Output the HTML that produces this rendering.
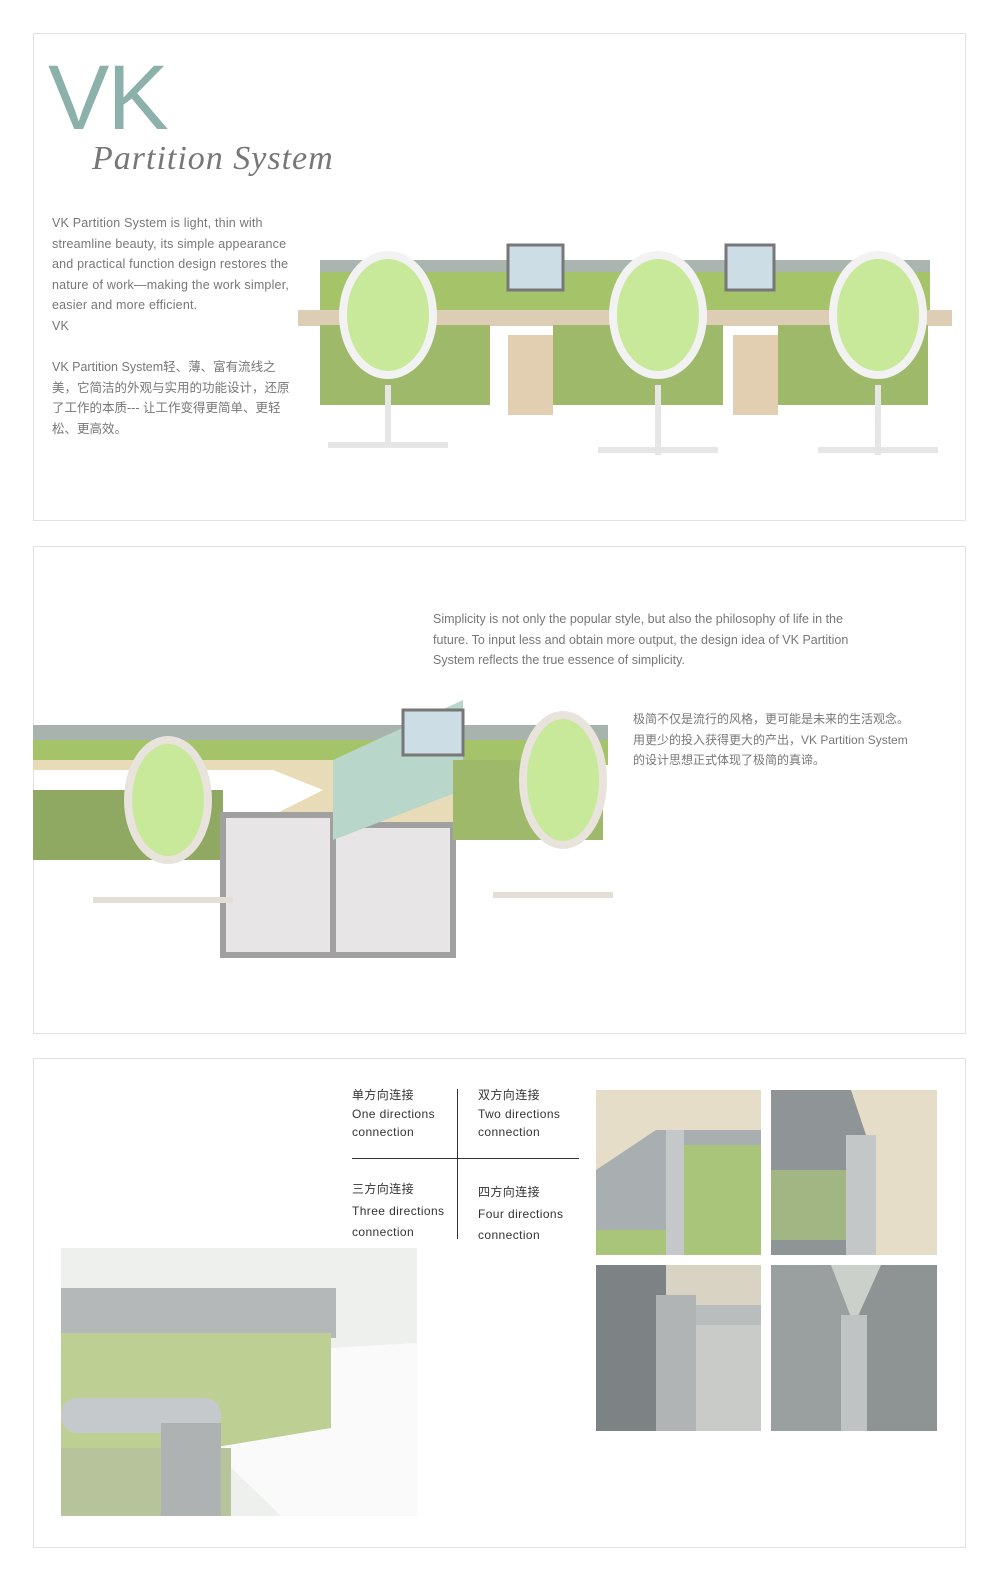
<!DOCTYPE html>
<html><head><meta charset="utf-8"><style>
body{margin:0;background:#fff;width:1000px;height:1569px;position:relative;font-family:"Liberation Sans","Noto Sans CJK SC",sans-serif;overflow:hidden}
.p{position:absolute;left:33px;width:933px;height:488px;border:1px solid #e2e2e2;box-sizing:border-box}
.a{position:absolute}
.t{color:#777;font-size:12.5px;line-height:20.5px}
.c{color:#333;font-size:12px;line-height:18.5px;letter-spacing:0.4px}
</style></head><body>
<div class="p" style="top:33px"></div>
<div class="p" style="top:546px"></div>
<div class="p" style="top:1058px;height:490px"></div>

<div class="a" style="left:48px;top:48px;font-size:92px;color:#8cb0aa;line-height:100px;letter-spacing:-2px">VK</div>
<div class="a" style="left:92px;top:140px;font-size:34px;color:#777;font-family:'Liberation Serif',serif;font-style:italic;letter-spacing:1px">Partition System</div>
<div class="a t" style="left:52px;top:213px;width:245px;letter-spacing:0.2px">VK Partition System is light, thin with streamline beauty, its simple appearance and practical function design restores the nature of work—making the work simpler, easier and more efficient.<br>VK</div>
<div class="a t" style="left:52px;top:357px;width:238px">VK Partition System轻、薄、富有流线之美，它简洁的外观与实用的功能设计，还原了工作的本质--- 让工作变得更简单、更轻松、更高效。</div>

<svg class="a" style="left:298px;top:195px" width="656" height="282">
<rect x="22" y="65" width="610" height="55" fill="#a5c46a"/>
<rect x="22" y="65" width="610" height="12" fill="#aab5b0"/>
<rect x="0" y="115" width="654" height="16" fill="#dccdb4"/>
<rect x="210" y="140" width="45" height="80" fill="#e2cfb2"/>
<rect x="435" y="140" width="45" height="80" fill="#e2cfb2"/>
<rect x="22" y="130" width="170" height="80" fill="#9fb96b"/>
<rect x="255" y="130" width="170" height="80" fill="#9fb96b"/>
<rect x="480" y="130" width="150" height="80" fill="#9fb96b"/>
<rect x="210" y="50" width="55" height="45" fill="#ccdde5" stroke="#777" stroke-width="3"/>
<rect x="428" y="50" width="48" height="45" fill="#ccdde5" stroke="#777" stroke-width="3"/>
<g fill="#c8e89a" stroke="#f2f2f2" stroke-width="8">
<ellipse cx="90" cy="120" rx="45" ry="60"/><ellipse cx="360" cy="120" rx="45" ry="60"/><ellipse cx="580" cy="120" rx="45" ry="60"/>
</g>
<g stroke="#e6e6e6" stroke-width="6"><line x1="90" y1="190" x2="90" y2="250"/><line x1="360" y1="190" x2="360" y2="260"/><line x1="580" y1="190" x2="580" y2="260"/>
<line x1="30" y1="250" x2="150" y2="250"/><line x1="300" y1="255" x2="420" y2="255"/><line x1="520" y1="255" x2="640" y2="255"/></g>
</svg>

<div class="a t" style="left:433px;top:609px;width:445px">Simplicity is not only the popular style, but also the philosophy of life in the future. To input less and obtain more output, the design idea of VK Partition System reflects the true essence of simplicity.</div>
<div class="a t" style="left:633px;top:709px;width:285px;font-size:12px">极简不仅是流行的风格，更可能是未来的生活观念。用更少的投入获得更大的产出，VK Partition System的设计思想正式体现了极简的真谛。</div>

<svg class="a" style="left:33px;top:660px" width="590" height="300">
<rect x="0" y="65" width="575" height="20" fill="#a8b3ae"/>
<rect x="0" y="80" width="575" height="25" fill="#a5c46a"/>
<polygon points="0,110 240,110 290,130 190,180 570,180 570,100 0,100" fill="#e8dcb8"/>
<rect x="0" y="130" width="190" height="70" fill="#8fa862"/>
<rect x="190" y="155" width="110" height="140" fill="#e7e5e5" stroke="#a0a0a0" stroke-width="6"/>
<rect x="300" y="165" width="120" height="130" fill="#e7e5e5" stroke="#a0a0a0" stroke-width="6"/>
<polygon points="300,100 430,40 430,130 300,180" fill="#b8d6c9"/>
<rect x="370" y="50" width="60" height="45" fill="#ccdde5" stroke="#777" stroke-width="3"/>
<rect x="420" y="100" width="150" height="80" fill="#9fb96b"/>
<g fill="#c8e89a" stroke="#e8e3dc" stroke-width="8"><ellipse cx="135" cy="140" rx="40" ry="60"/><ellipse cx="530" cy="120" rx="40" ry="65"/></g>
<g stroke="#e3ded6" stroke-width="6"><line x1="60" y1="240" x2="200" y2="240"/><line x1="460" y1="235" x2="580" y2="235"/></g>
</svg>

<div class="a c" style="left:352px;top:1086px">单方向连接<br>One directions<br>connection</div>
<div class="a c" style="left:478px;top:1086px">双方向连接<br>Two directions<br>connection</div>
<div class="a c" style="left:352px;top:1180px">三方向连接<br><span style="line-height:24px">Three directions</span><br>connection</div>
<div class="a c" style="left:478px;top:1183px">四方向连接<br><span style="line-height:24px">Four directions</span><br>connection</div>
<div class="a" style="left:457px;top:1089px;width:1px;height:150px;background:#333"></div>
<div class="a" style="left:352px;top:1158px;width:227px;height:1px;background:#333"></div>

<svg class="a" style="left:61px;top:1248px" width="356" height="268">
<rect width="356" height="268" fill="#eef0ee"/>
<rect x="0" y="40" width="275" height="50" fill="#b4b8b8"/>
<rect x="0" y="85" width="270" height="120" fill="#bdcf92"/>
<polygon points="270,100 356,95 356,268 220,268 150,200 270,180" fill="#fafafa"/>
<rect x="0" y="200" width="170" height="68" fill="#b7c49b"/>
<rect x="0" y="150" width="160" height="35" rx="16" fill="#c6c9cb"/>
<rect x="100" y="175" width="60" height="93" fill="#aeb2b3"/>
</svg>

<svg class="a" style="left:596px;top:1090px" width="341" height="341">
<g><rect x="0" y="0" width="165" height="165" fill="#e6ddc9"/><polygon points="0,80 60,40 165,40 165,165 0,165" fill="#a9aeb0"/><rect x="85" y="55" width="80" height="110" fill="#a8c57a"/><rect x="70" y="40" width="18" height="125" fill="#c5c8c9"/><rect x="0" y="140" width="70" height="25" fill="#a8c57a"/></g>
<g transform="translate(175,0)"><rect width="166" height="165" fill="#e6ddc9"/><polygon points="0,0 80,0 100,60 100,165 0,165" fill="#8f9496"/><rect x="75" y="45" width="30" height="120" fill="#c4c7c8"/><rect x="0" y="80" width="75" height="70" fill="#a8c57a" opacity=".7"/></g>
<g transform="translate(0,175)"><rect width="165" height="166" fill="#d8d3c2"/><polygon points="0,0 70,0 70,166 0,166" fill="#7d8284"/><rect x="70" y="50" width="95" height="116" fill="#c9cbc9"/><rect x="60" y="30" width="40" height="136" fill="#b0b4b5"/><rect x="100" y="40" width="65" height="20" fill="#b9bdbe"/></g>
<g transform="translate(175,175)"><rect width="166" height="166" fill="#ccd0cb"/><polygon points="0,0 60,0 83,60 83,166 0,166" fill="#9a9fa0"/><polygon points="166,0 110,0 83,60 83,166 166,166" fill="#8e9394"/><rect x="70" y="50" width="26" height="116" fill="#c0c3c4"/></g>
</svg>
</body></html>
